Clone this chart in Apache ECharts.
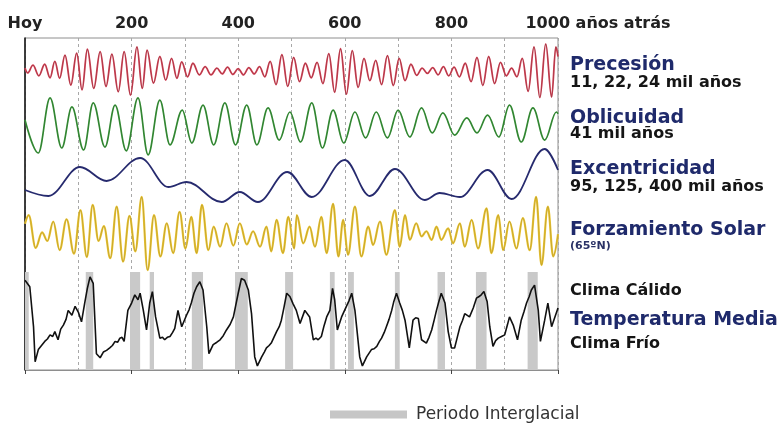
<!DOCTYPE html>
<html>
<head>
<meta charset="utf-8">
<script src="https://cdn.jsdelivr.net/npm/echarts@6/dist/echarts.min.js"></script>
<style>
  html, body { margin: 0; padding: 0; background: #fff; }
  #chart { width: 780px; height: 424px; }
</style>
</head>
<body>
<div id="chart"></div>
<script>
// Time axis: thousands of years before present
const tickValues = [0, 200, 400, 600, 800, 1000];
const tickLabels = ['Hoy', '200', '400', '600', '800', '1000 años atrás'];

// Precession index (x 1000), [ka, value]
const precession = [
  [0, 6], [5, -4], [15, 12], [26, -10], [37, 14], [47, -14], [56, 20], [65, -15],
  [75, 33], [86, -29], [97, 37], [107, -39], [117, 45], [129, -36], [141, 40], [152, -32],
  [163, 35], [175, -43], [186, 40], [198, -50], [210, 50], [220, -36], [229, 43], [241, -25],
  [253, 30], [264, -19], [275, 26], [285, -15], [294, 19], [305, -12], [315, 16], [327, -8],
  [338, 9], [349, -8], [360, 6], [370, -6], [380, 8], [390, -7], [400, 5], [410, -8],
  [420, 7], [430, -6], [440, 9], [450, -12], [460, 20], [471, -28], [482, 34], [493, -32],
  [504, 28], [515, -22], [526, 16], [537, -14], [548, 18], [559, -26], [570, 36], [581, -44],
  [592, 46], [603, -48], [614, 42], [625, -34], [636, 26], [647, -20], [658, 22], [669, -28],
  [680, 32], [691, -30], [702, 26], [713, -20], [724, 14], [735, -9], [745, 6], [755, -5],
  [765, 7], [775, -8], [785, 9], [795, -10], [805, 8], [815, -12], [826, 16], [837, -22],
  [848, 28], [859, -30], [870, 30], [881, -26], [892, 18], [903, -10], [913, 6], [923, -12],
  [933, 26], [944, -42], [955, 50], [966, -55], [977, 56], [988, -54], [996, 50], [1000, 30]
];

// Obliquity (degrees), [ka, value]
const obliquity = [
  [0, 23.6], [25, 22.21], [47, 24.52], [69, 22.42], [88, 24.14], [110, 22.34], [128, 24.31],
  [150, 22.46], [169, 24.22], [190, 22.30], [212, 24.52], [231, 22.13], [253, 24.43],
  [272, 22.55], [295, 24.01], [313, 22.63], [334, 24.22], [354, 22.55], [375, 24.31],
  [395, 22.55], [416, 24.22], [435, 22.55], [456, 24.10], [477, 22.75], [497, 23.93],
  [517, 22.67], [538, 24.31], [558, 22.42], [578, 24.01], [598, 22.63], [619, 23.93],
  [639, 22.84], [659, 23.93], [680, 22.84], [700, 24.01], [722, 22.88], [744, 24.10],
  [764, 23.05], [784, 23.89], [806, 22.96], [829, 23.68], [848, 23.05], [868, 23.80],
  [889, 22.88], [909, 24.22], [931, 22.67], [953, 24.10], [975, 22.75], [997, 23.93], [1000, 23.85]
];

// Orbital eccentricity, [ka, value]
const eccentricity = [
  [0, 0.016], [44, 0.010], [103, 0.039], [153, 0.025], [216, 0.048], [269, 0.019],
  [303, 0.024], [369, 0.004], [403, 0.014], [437, 0.004], [492, 0.034], [538, 0.009],
  [600, 0.046], [647, 0.010], [694, 0.037], [750, 0.006], [778, 0.013], [816, 0.009],
  [868, 0.036], [913, 0.007], [975, 0.057], [1000, 0.036]
];

// Summer insolation at 65°N (W/m²), [ka, value]
const insolation = [
  [0, 518], [7, 533], [20, 476], [32, 503], [42, 488], [53, 522], [65, 472], [78, 526],
  [92, 466], [104, 542], [116, 460], [127, 551], [138, 488], [148, 514], [160, 458], [172, 548],
  [184, 452], [196, 532], [207, 470], [219, 565], [230, 437], [242, 533], [254, 461], [266, 519],
  [278, 467], [290, 539], [301, 475], [312, 530], [322, 467], [332, 551], [344, 472], [354, 513],
  [366, 478], [378, 519], [391, 480], [403, 519], [416, 482], [428, 505], [441, 478], [453, 513],
  [462, 470], [472, 525], [484, 467], [494, 530], [505, 475], [510, 533], [522, 484], [534, 513],
  [544, 478], [556, 530], [566, 467], [578, 553], [588, 461], [597, 525], [606, 464], [619, 548],
  [631, 461], [644, 513], [653, 481], [666, 522], [678, 464], [694, 542], [703, 478], [713, 533],
  [722, 490], [734, 519], [744, 496], [753, 505], [763, 490], [772, 513], [781, 490], [794, 510],
  [803, 484], [816, 519], [825, 478], [838, 525], [850, 475], [866, 545], [875, 467], [888, 533],
  [897, 472], [909, 522], [922, 475], [934, 528], [947, 472], [959, 565], [969, 446], [981, 548],
  [991, 461], [1000, 500]
];

// Mean temperature anomaly (°C), [ka, value]
const temperature = [
  [0, 1.0], [9, 0.2], [16, -4.7], [19, -9.0], [25, -7.5], [31, -7.0], [37, -6.5], [42, -6.2],
  [47, -5.7], [52, -5.9], [56, -5.3], [62, -6.3], [67, -5.0], [72, -4.5], [77, -3.8], [81, -2.7],
  [88, -3.3], [94, -2.2], [100, -2.9], [106, -4.1], [112, -1.8], [117, 0.0], [122, 1.4], [128, 0.6],
  [134, -8.0], [141, -8.5], [147, -7.8], [153, -7.6], [159, -7.3], [164, -7.0], [169, -6.5],
  [174, -6.6], [178, -6.1], [182, -6.0], [186, -6.5], [193, -2.7], [200, -1.8], [206, -0.8],
  [212, -1.4], [216, -0.6], [222, -2.7], [228, -5.1], [234, -1.8], [239, -0.4], [245, -3.5],
  [253, -6.1], [258, -6.0], [262, -6.3], [267, -6.0], [272, -5.9], [277, -5.4], [281, -4.9],
  [287, -2.7], [294, -4.7], [303, -3.3], [308, -2.6], [312, -1.8], [317, -0.6], [322, 0.2],
  [328, 0.8], [334, -0.2], [341, -4.7], [345, -8.0], [353, -6.9], [360, -6.6], [366, -6.3],
  [372, -5.8], [378, -5.1], [385, -4.4], [391, -3.5], [400, -0.6], [406, 1.2], [412, 1.0],
  [419, -0.2], [425, -3.1], [431, -8.4], [436, -9.5], [444, -8.4], [449, -7.8], [453, -7.3],
  [458, -7.0], [462, -6.7], [467, -6.0], [472, -5.3], [477, -4.7], [481, -3.9], [486, -2.3],
  [491, -0.6], [497, -1.0], [503, -1.9], [509, -2.7], [516, -4.3], [525, -2.7], [534, -3.5],
  [541, -6.3], [546, -6.1], [550, -6.3], [556, -5.9], [561, -4.6], [566, -3.5], [572, -2.7],
  [577, 0.0], [581, -1.4], [586, -5.1], [594, -3.5], [603, -2.2], [608, -1.5], [613, -0.6],
  [619, -2.7], [628, -8.4], [633, -9.5], [641, -8.4], [645, -8.0], [650, -7.5], [655, -7.4],
  [660, -7.1], [665, -6.5], [669, -6.1], [674, -5.4], [678, -4.7], [683, -3.8], [688, -2.7],
  [692, -1.6], [697, -0.6], [703, -1.8], [708, -2.7], [713, -3.9], [721, -7.3], [728, -3.9],
  [733, -3.6], [738, -3.7], [744, -6.3], [753, -6.7], [758, -6.0], [763, -5.1], [768, -3.8],
  [772, -2.7], [777, -1.5], [781, -0.6], [788, -1.8], [794, -5.3], [800, -7.3], [806, -7.3],
  [811, -6.0], [816, -4.7], [821, -3.9], [825, -3.1], [834, -3.5], [841, -2.4], [847, -1.2],
  [852, -1.0], [856, -0.8], [861, -0.4], [867, -1.6], [872, -4.7], [878, -7.1], [883, -6.4],
  [888, -6.1], [894, -5.9], [900, -5.7], [905, -4.5], [909, -3.5], [916, -4.5], [924, -6.3],
  [931, -3.9], [936, -2.9], [941, -1.8], [946, -1.0], [950, -0.2], [956, 0.4], [963, -2.7],
  [967, -6.5], [975, -3.9], [981, -1.8], [988, -4.7], [1000, -2.4]
];

// Interglacial periods, [start ka, end ka]
const interglacials = [
  [0, 7], [114, 128], [197, 216], [234, 242], [313, 334], [394, 418], [488, 503],
  [572, 581], [606, 617], [694, 703], [774, 788], [846, 866], [943, 962]
];

const FONT = '"DejaVu Sans", Verdana, sans-serif';
const NAVY = '#1f2a6b';
const INK = '#151515';
const L = 25, R = 222;

const chart = echarts.init(document.getElementById('chart'), null, { renderer: 'canvas' });

const panels = [
  { top: 42, height: 58, min: -60, max: 60 },      // precession
  { top: 96, height: 62, min: 22.0, max: 24.6 },   // obliquity
  { top: 146, height: 60, min: 0, max: 0.06 },     // eccentricity
  { top: 194, height: 86, min: 420, max: 570 },    // insolation
  { top: 272, height: 98, min: -10, max: 2 }       // temperature
];

const grids = [{ left: L, right: R, top: 38, height: 332, show: true, borderColor: '#8e8e8e', borderWidth: 1 }]
  .concat(panels.map(p => ({ left: L, right: R, top: p.top, height: p.height })));

const xAxes = [{
  gridIndex: 0, type: 'value', position: 'top', min: 0, max: 1000, interval: 200,
  axisLine: { show: true, lineStyle: { color: '#8e8e8e', width: 1 } },
  axisTick: { show: true, inside: true, length: 4, lineStyle: { color: '#444' } },
  splitLine: { show: true, lineStyle: { color: '#a8a8a8', type: [3, 3], width: 1 } },
  minorTick: { show: false, splitNumber: 2 },
  minorSplitLine: { show: true, lineStyle: { color: '#a8a8a8', type: [3, 3], width: 1 } },
  axisLabel: {
    margin: 6,
    formatter: v => {
      const i = tickValues.indexOf(v);
      if (i < 0) return '';
      return v === 1000 ? '{sp|}{t|' + tickLabels[i] + '}' : '{t|' + tickLabels[i] + '}';
    },
    rich: {
      t: { fontFamily: FONT, fontWeight: 'bold', fontSize: 16, color: '#222' },
      sp: { width: 80 }
    }
  }
}].concat(panels.map((p, i) => ({ gridIndex: i + 1, type: 'value', min: 0, max: 1000, show: false })));

const yAxes = [{
  gridIndex: 0, type: 'value', min: 0, max: 1,
  axisLine: { show: true, lineStyle: { color: '#111', width: 1.5 } },
  axisTick: { show: false }, axisLabel: { show: false }, splitLine: { show: false }
}].concat(panels.map((p, i) => ({ gridIndex: i + 1, type: 'value', min: p.min, max: p.max, show: false })));

// Each curve is a coloured stroke with a thin darker core line on top
function curve(idx, data, color, width, core, smooth) {
  const base = {
    type: 'line', xAxisIndex: idx, yAxisIndex: idx, data: data,
    showSymbol: false, smooth: smooth, smoothMonotone: smooth ? 'x' : undefined,
    silent: true, z: 3
  };
  const out = [Object.assign({}, base, { lineStyle: { color: color, width: width } })];
  if (core) out.push(Object.assign({}, base, { z: 4, lineStyle: { color: core, width: 0.7, opacity: 0.4 } }));
  return out;
}

const series = [].concat(
  [{
    name: 'Periodo Interglacial', type: 'line', xAxisIndex: 5, yAxisIndex: 5, data: [],
    itemStyle: { color: '#c6c6c6' }, lineStyle: { color: '#c6c6c6' }, z: 1, silent: true,
    markArea: {
      silent: true,
      itemStyle: { color: '#c9c9c9' },
      data: interglacials.map(r => [{ xAxis: r[0] }, { xAxis: r[1] }])
    }
  }],
  curve(1, precession, '#d8485c', 1.8, '#4a1216', 0.36),
  curve(2, obliquity, '#3d9a3d', 1.7, '#173a17', 0.36),
  curve(3, eccentricity, '#262a6e', 1.8, null, 0.36),
  curve(4, insolation, '#ecc635', 2.2, '#6e5e18', 0.36),
  curve(5, temperature, '#111111', 1.6, null, false)
);

const labels = [
  ['Precesión', 65, 19, NAVY], ['11, 22, 24 mil años', 83, 16, INK],
  ['Oblicuidad', 118, 19, NAVY], ['41 mil años', 134, 16, INK],
  ['Excentricidad', 169, 19, NAVY], ['95, 125, 400 mil años', 187, 16, INK],
  ['Forzamiento Solar', 230, 19, NAVY], ['(65ºN)', 246, 11, '#2a3266'],
  ['Clima Cálido', 291, 16, INK], ['Temperatura Media', 320, 19, NAVY], ['Clima Frío', 344, 16, INK]
];

chart.setOption({
  animation: false,
  backgroundColor: '#ffffff',
  grid: grids,
  xAxis: xAxes,
  yAxis: yAxes,
  legend: {
    data: ['Periodo Interglacial'],
    left: 325, top: 401,
    icon: 'rect', itemWidth: 77, itemHeight: 8,
    selectedMode: false,
    textStyle: { fontFamily: FONT, fontSize: 17, color: '#333', padding: [0, 0, 0, 4] }
  },
  graphic: labels.map(l => ({
    type: 'text', x: 570, y: l[1], silent: true,
    style: {
      text: l[0], fill: l[3], verticalAlign: 'middle',
      font: 'bold ' + l[2] + 'px ' + FONT
    }
  })),
  series: series
});
</script>
</body>
</html>
